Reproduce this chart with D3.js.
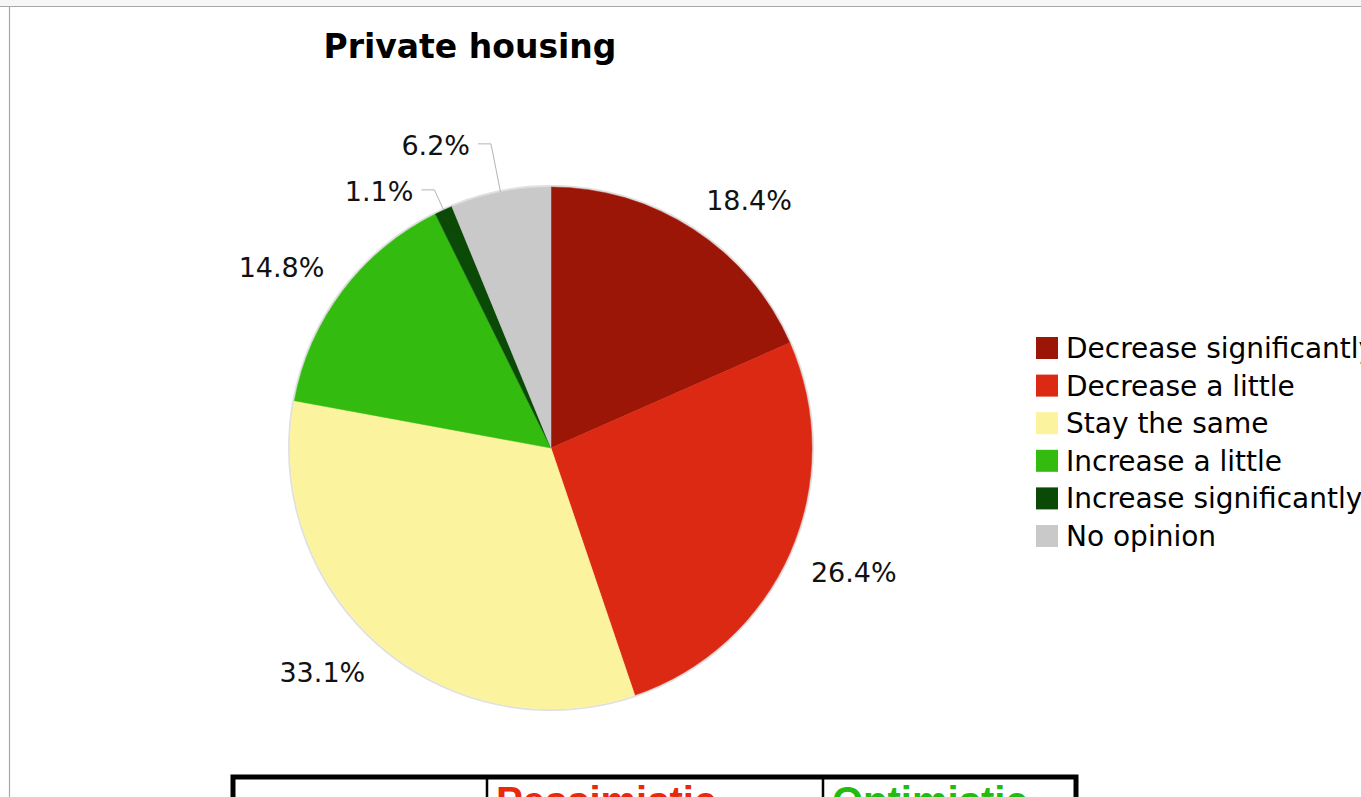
<!DOCTYPE html>
<html>
<head>
<meta charset="utf-8">
<script src="https://cdn.jsdelivr.net/npm/d3@7"></script>
<style>
  html, body { margin: 0; padding: 0; background: #fff; overflow: hidden; }
  svg { display: block; }
</style>
</head>
<body>
<svg id="chart" width="1361" height="797"></svg>
<script>
// Survey answers: expected change in private housing
const categories = ["Decrease significantly", "Decrease a little", "Stay the same",
                    "Increase a little", "Increase significantly", "No opinion"];
const shares = [18.4, 26.4, 33.1, 14.8, 1.1, 6.2];
const sliceColors = ["#9c1608", "#dc2913", "#fbf39e", "#33bb10", "#0b4a06", "#c9c9c9"];
const chartTitle = "Private housing";
const tableHeaders = ["", "Pessimistic", "Optimistic"];
const headerColors = ["#000", "#e8290d", "#22bb11"];

const W = 1361, H = 797;
const svg = d3.select("#chart");

// page frame
svg.append("rect").attr("x", 0).attr("y", 0).attr("width", W).attr("height", 6).attr("fill", "#f8f6f5");
svg.append("line").attr("x1", 0).attr("x2", W).attr("y1", 6.5).attr("y2", 6.5)
  .attr("stroke", "#a8a8a8").attr("stroke-width", 1.2);
svg.append("line").attr("x1", 9.5).attr("x2", 9.5).attr("y1", 6).attr("y2", H)
  .attr("stroke", "#a8a8a8").attr("stroke-width", 1.2);

// title
svg.append("text")
  .attr("x", 470).attr("y", 58)
  .attr("text-anchor", "middle")
  .attr("font-family", "DejaVu Sans, Verdana, sans-serif")
  .attr("font-weight", "bold")
  .attr("font-size", 33)
  .attr("fill", "#000")
  .text(chartTitle);

// pie
const cx = 551, cy = 448, R = 261;
const data = categories.map((c, i) => ({ cat: c, v: shares[i], color: sliceColors[i] }));
const pie = d3.pie().value(d => d.v).sort(null);
const arcs = pie(data);
const arc = d3.arc().innerRadius(0).outerRadius(R);

const g = svg.append("g").attr("transform", `translate(${cx},${cy})`);

// soft rim around the disc
g.append("circle").attr("r", R + 1).attr("fill", "none")
  .attr("stroke", "#e0e0e0").attr("stroke-width", 2);

g.selectAll("path.slice")
  .data(arcs)
  .join("path")
  .attr("class", "slice")
  .attr("d", arc)
  .attr("fill", d => d.data.color)
  .attr("stroke", d => d.data.color)
  .attr("stroke-width", 0.5);

// labels
const labelFont = "DejaVu Sans, Verdana, sans-serif";
const labelSize = 27;
const capH = labelSize * 0.729;
const fmt = v => v.toFixed(1) + "%";
const midA = d => (d.startAngle + d.endAngle) / 2;

const bigSlices = arcs.filter(d => d.data.v >= 8);
const smallSlices = arcs.filter(d => d.data.v < 8);

// large slices: label box corner sits on a ring just outside the disc
const rLab = 284;
bigSlices.forEach(d => {
  const a = midA(d);
  const px = Math.sin(a) * rLab, py = -Math.cos(a) * rLab;
  const right = Math.sin(a) >= 0;
  const top = py < 0;
  g.append("text")
    .attr("x", px)
    .attr("y", top ? py : py + capH)
    .attr("text-anchor", right ? "start" : "end")
    .attr("font-family", labelFont)
    .attr("font-size", labelSize)
    .attr("fill", "#111")
    .text(fmt(d.data.v));
});

// small slices: leader lines with an elbow, spread apart vertically
const rElbow = 310, minGap = 46;
const callouts = smallSlices.map(d => {
  const a = midA(d);
  const ex = Math.sin(a) * R, ey = -Math.cos(a) * R;
  return { d, a, ex, ey, ky: -Math.cos(a) * rElbow };
}).sort((p, q) => p.ky - q.ky);
for (let i = 1; i < callouts.length; i++) {
  if (callouts[i].ky - callouts[i - 1].ky < minGap) callouts[i].ky = callouts[i - 1].ky + minGap;
}
callouts.forEach(c => {
  // continue outward along the slice's mid-radius up to the elbow height
  const kx = c.ex + (c.ey - c.ky) * Math.tan(c.a);
  const left = Math.sin(c.a) < 0;
  const hx = left ? kx - 13 : kx + 13;
  g.append("polyline")
    .attr("points", [[c.ex, c.ey], [kx, c.ky], [hx, c.ky]].map(p => p.join(",")).join(" "))
    .attr("fill", "none")
    .attr("stroke", "#b4b4b4")
    .attr("stroke-width", 1);
  g.append("text")
    .attr("x", left ? hx - 8 : hx + 8)
    .attr("y", c.ky + capH / 2 + 1)
    .attr("text-anchor", left ? "end" : "start")
    .attr("font-family", labelFont)
    .attr("font-size", labelSize)
    .attr("fill", "#111")
    .text(fmt(c.d.data.v));
});

// legend
const legend = svg.append("g").attr("transform", "translate(1036,337)");
const rowY = d3.scalePoint().domain(categories).range([0, 37.6 * (categories.length - 1)]);
const items = legend.selectAll("g.item").data(data).join("g")
  .attr("class", "item")
  .attr("transform", d => `translate(0,${rowY(d.cat)})`);
items.append("rect").attr("width", 22).attr("height", 22).attr("fill", d => d.color);
items.append("text")
  .attr("x", 30).attr("y", 21)
  .attr("font-family", labelFont)
  .attr("font-size", 28)
  .attr("fill", "#000")
  .text(d => d.cat);

// summary table header (continues below)
const colEdges = [233, 487, 823, 1076];
const table = svg.append("g");
table.append("rect")
  .attr("x", colEdges[0]).attr("y", 777)
  .attr("width", colEdges[3] - colEdges[0]).attr("height", 60)
  .attr("fill", "#fff").attr("stroke", "#000").attr("stroke-width", 5);
[1, 2].forEach(i => {
  table.append("line")
    .attr("x1", colEdges[i]).attr("x2", colEdges[i])
    .attr("y1", 777).attr("y2", H)
    .attr("stroke", "#000").attr("stroke-width", 2.5);
});
tableHeaders.forEach((t, i) => {
  if (!t) return;
  table.append("text")
    .attr("x", colEdges[i] + 9).attr("y", 815)
    .attr("font-family", "Liberation Sans, Arial, sans-serif")
    .attr("font-weight", "bold")
    .attr("font-size", 40)
    .attr("fill", headerColors[i])
    .text(t);
});
</script>
</body>
</html>
